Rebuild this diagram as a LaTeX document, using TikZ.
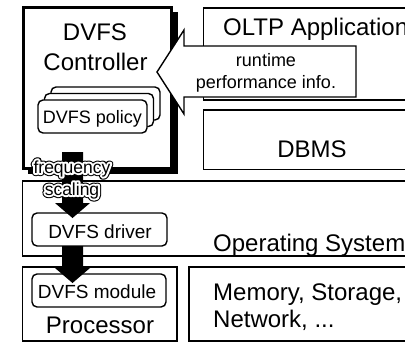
\documentclass[tikz,border=0pt]{standalone}
\usepackage{fontspec}
\setmainfont{Liberation Sans}
\usetikzlibrary{calc}

\tikzset{
  frame/.style={draw=black, line width=1.4pt, fill=white},
  card/.style={frame, rounded corners=5pt},
  bigtext/.style={font=\fontsize{24}{28}\selectfont, inner sep=0pt},
  midtext/.style={font=\fontsize{19}{23}\selectfont, inner sep=0pt},
  smalltext/.style={font=\fontsize{18}{22}\selectfont, inner sep=0pt},
  tagtext/.style={font=\fontsize{17.5}{20}\selectfont, inner sep=0pt, anchor=base},
  blockfill/.style={fill=black},
}

% thick downward block arrow from coordinate #1 to tip #2
\newcommand\blockarrow[2]{%
  \fill[blockfill] ($(#1)+(-10.5,0)$) -- ($(#1)+(10.5,0)$) -- ($(#2)+(10.5,-15)$)
    -- ($(#2)+(17.5,-15)$) -- (#2) -- ($(#2)+(-17.5,-15)$) -- ($(#2)+(-10.5,-15)$) -- cycle;}

% glyph outlines: render mode #1, stroke width #2, stroke grey #3
\newcommand\outlinemode[3]{\special{pdf:literal direct #1 Tr #2 w 1 j 1 J #3 G}}
\newcommand\plainmode{\special{pdf:literal direct 0 Tr}}

% text with a white halo and a thin dark contour
\newcommand\halotext[3]{%
  \node[tagtext] at (#2) {\outlinemode{1}{6.2}{0}#3\plainmode};
  \node[tagtext, text=white] at (#2) {\outlinemode{2}{4.0}{1}#3\plainmode};
  \node[tagtext] (#1) at (#2) {#3};}

\begin{document}
\begin{tikzpicture}[x=1pt,y=-1pt]
\useasboundingbox (0,0) rectangle (405,343);
\clip (0,0) rectangle (405,343);

% software / hardware layers
\draw[frame] (203.5,8) rectangle (430,100);
\draw[frame] (203.5,110) rectangle (430,169.5);
\draw[frame] (22.5,181) rectangle (430,256);
\draw[frame] (22.5,267) rectangle (177,341);
\draw[frame] (189,267) rectangle (430,341);
\draw[card] (32,213) rectangle (167,246);
\draw[card] (32,274) rectangle (166,307);

\node[bigtext, anchor=base west] (oltp) at (223,35) {OLTP Application};
\node[bigtext, anchor=base] (dbms) at (312,157) {DBMS};
\node[bigtext, anchor=base west] (os) at (213,251) {Operating System};
\node[bigtext, anchor=base west] (mem) at (213,300) {Memory, Storage,};
\node[bigtext, anchor=base west] (net) at (213,327) {Network, ...};
\node[bigtext, anchor=base] (proc) at (100,333) {Processor};
\node[midtext, anchor=base] (driver) at (100,238) {DVFS driver};
\node[midtext, anchor=base] (module) at (97,298) {DVFS module};

% controller with drop shadow
\fill[black] (28,12) rectangle (177.5,174);
\draw[draw=black, fill=white, line width=3pt] (23.5,7.5) rectangle (171.5,168.5);
\node[bigtext, anchor=base] (dvfs) at (95,40.5) {DVFS};
\node[bigtext, anchor=base] (ctrl) at (95.5,70.5) {Controller};

% stacked policy cards
\draw[card] (51,87) rectangle (160,120);
\draw[card] (44.5,93.5) rectangle (153.5,126.5);
\draw[card] (38,100) rectangle (147,133);
\node[smalltext, anchor=base] (policy) at (92.5,123) {DVFS policy};

% feedback callout pointing at the controller
\draw[frame, line join=miter] (157,72) -- (184,30) -- (184,46) -- (356,46) -- (356,97)
  -- (184,97) -- (184,114) -- cycle;
\node[smalltext, anchor=base] (rt) at (266,66) {runtime};
\node[smalltext, anchor=base] (perf) at (266,88) {performance info.};

% control path down to the hardware
\coordinate (a1s) at (72.5,152);
\coordinate (a1e) at (72.5,218);
\coordinate (a2s) at (72.5,246);
\coordinate (a2e) at (72.5,283);
\blockarrow{a1s}{a1e}
\blockarrow{a2s}{a2e}

\halotext{freq}{72,173}{frequency}
\halotext{scal}{72,195}{scaling}
\end{tikzpicture}
\end{document}
